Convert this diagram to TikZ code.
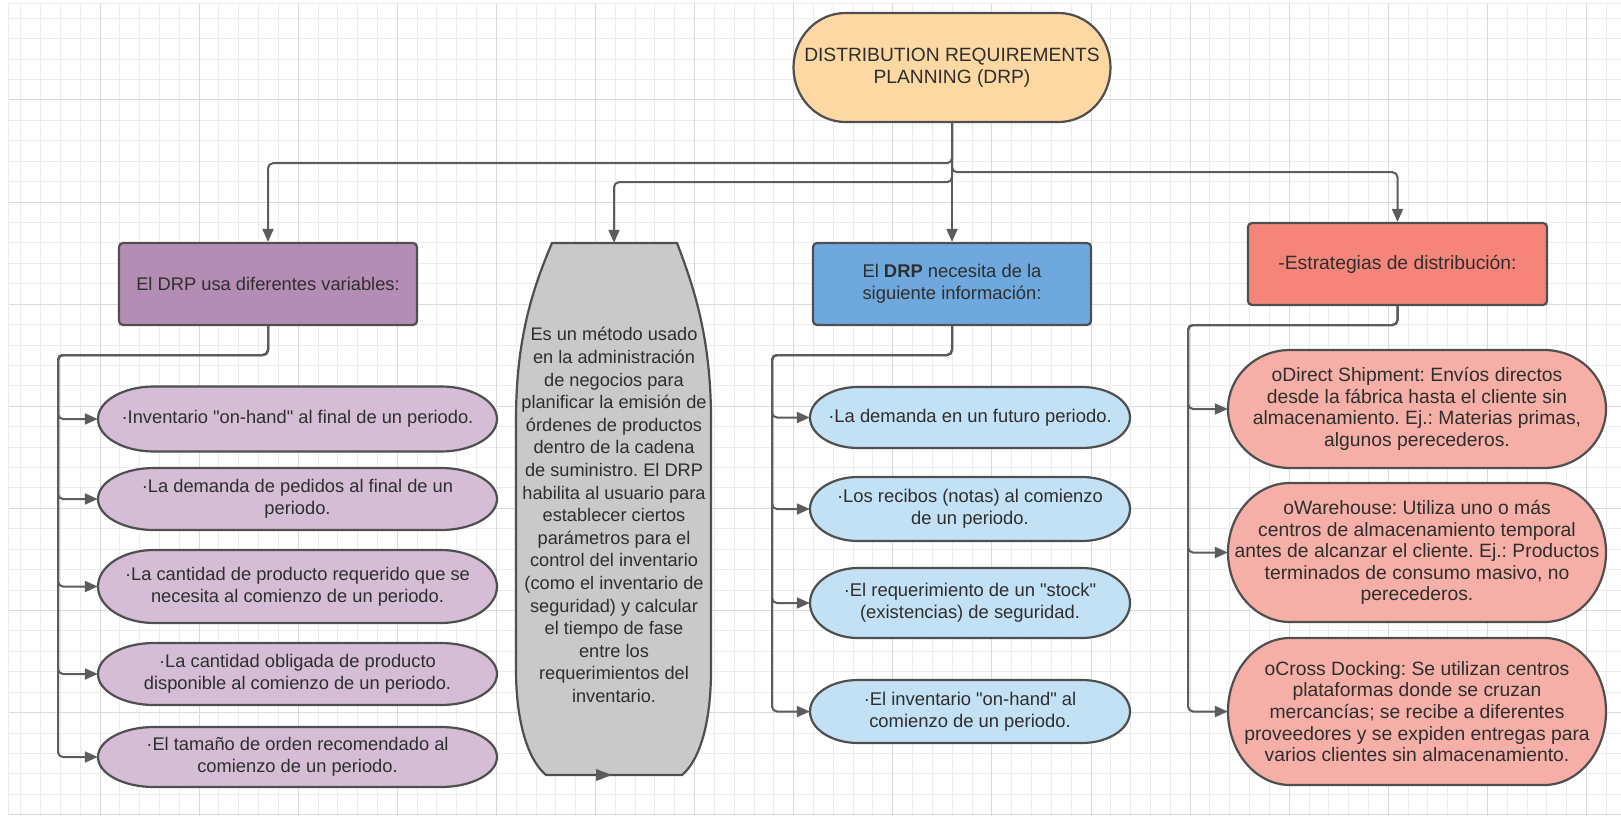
\documentclass[tikz,border=0pt]{standalone}
\usepackage{fontspec}
\setmainfont{Liberation Sans}[Ligatures=TeXOff]
\usetikzlibrary{arrows.meta}

\definecolor{gridminor}{HTML}{ECECEC}
\definecolor{gridmajor}{HTML}{DADADA}
\definecolor{linecol}{HTML}{5C5C5C}
\definecolor{bordercol}{HTML}{4F4F4F}
\definecolor{textcol}{HTML}{2E2E2E}
\definecolor{topfill}{HTML}{FDD8A3}
\definecolor{purplebox}{HTML}{B48DB4}
\definecolor{purplelight}{HTML}{D5BDD6}
\definecolor{graybody}{HTML}{C9C9C9}
\definecolor{bluebox}{HTML}{6FA8DC}
\definecolor{bluelight}{HTML}{C2E1F5}
\definecolor{redbox}{HTML}{F5857A}
\definecolor{redlight}{HTML}{F5AFA6}

% capsule outline with elliptical ends: name, cx, cy, w, h, end radius, fill, text, font size
\newcommand\capsule[9]{%
  \filldraw[shapeline, fill=#7]
    ({#2-#4/2+#6},{#3-#5/2}) -- ({#2+#4/2-#6},{#3-#5/2})
    .. controls ({#2+#4/2-#6+0.5523*#6},{#3-#5/2}) and ({#2+#4/2},{#3-0.5523*#5/2}) .. ({#2+#4/2},{#3})
    .. controls ({#2+#4/2},{#3+0.5523*#5/2}) and ({#2+#4/2-#6+0.5523*#6},{#3+#5/2}) .. ({#2+#4/2-#6},{#3+#5/2})
    -- ({#2-#4/2+#6},{#3+#5/2})
    .. controls ({#2-#4/2+#6-0.5523*#6},{#3+#5/2}) and ({#2-#4/2},{#3+0.5523*#5/2}) .. ({#2-#4/2},{#3})
    .. controls ({#2-#4/2},{#3-0.5523*#5/2}) and ({#2-#4/2+#6-0.5523*#6},{#3-#5/2}) .. cycle;
  \node[txt, font=\fontsize{#9}{21.6}\selectfont, minimum width=#4pt, minimum height=#5pt] (#1) at (#2,#3) {#8};
}

\begin{document}
\frenchspacing
\begin{tikzpicture}[x=1pt, y=-1pt,
  minorline/.style={draw=gridminor, line width=1pt},
  majorline/.style={draw=gridmajor, line width=1pt},
  shapeline/.style={draw=bordercol, line width=2.2pt},
  txt/.style={text=textcol, align=center, inner sep=0pt},
  boxnode/.style={txt, shapeline, rounded corners=4pt},
  conn/.style={draw=linecol, line width=2pt, rounded corners=5pt, -{Triangle[length=13pt, width=11pt]}},
]
\useasboundingbox (0,0) rectangle (1621,821);
\fill[white] (0,0) rectangle (1621,821);

% background grid
\begin{scope}
  \clip (8,4) rectangle (1621,815);
  \foreach \i in {0,...,82} { \draw[minorline] ({0.9+19.82*\i},0) -- ++(0,821); }
  \foreach \i in {0,...,41} { \draw[minorline] (0,{-2.1+20.42*\i}) -- ++(1621,0); }
  \foreach \i in {0,...,16} { \draw[majorline] ({0.9+99.1*\i},0) -- ++(0,821); }
  \foreach \i in {0,...,8} { \draw[majorline] (0,{-2.1+102.1*\i}) -- ++(1621,0); }
\end{scope}
\draw[minorline] (8,4) -- (1621,4);
\draw[minorline] (8,4) -- (8,815);

% root
\capsule{root}{952}{67.5}{317}{109}{52}{topfill}{DISTRIBUTION REQUIREMENTS\\PLANNING (DRP)}{19.2}

% second level
\node[boxnode, fill=purplebox, font=\fontsize{18.3}{21.6}\selectfont, minimum width=298pt, minimum height=82pt] (vars) at (268,284) {El DRP usa diferentes variables:};
\node[boxnode, fill=bluebox, font=\fontsize{18.4}{21.6}\selectfont, minimum width=278pt, minimum height=82pt] (info) at (952,284) {El \textbf{DRP} necesita de la\\siguiente información:};
\node[boxnode, fill=redbox, font=\fontsize{19.3}{21.6}\selectfont, minimum width=299pt, minimum height=82pt] (strat) at (1397.5,264) {-Estrategias de distribución:};

% definition body
\filldraw[shapeline, fill=graybody]
  (552,243) -- (677,243) .. controls (695,290) and (711,340) .. (711,420) -- (711,670)
  .. controls (711,722) and (700,760) .. (682,775) -- (546,775)
  .. controls (528,760) and (516,722) .. (516,670) -- (516,420)
  .. controls (516,340) and (532,290) .. (552,243) -- cycle;
\node[minimum width=196pt, minimum height=532pt, inner sep=0pt] (gray) at (614,509) {};
\node[txt, font=\fontsize{18.2}{22.6}\selectfont] (grayText) at (614,515)
  {Es un método usado\\en la administración\\de negocios para\\planificar la emisión de\\órdenes de productos\\dentro de la cadena\\de suministro. El DRP\\habilita al usuario para\\establecer ciertos\\parámetros para el\\control del inventario\\(como el inventario de\\seguridad) y calcular\\el tiempo de fase\\entre los\\requerimientos del\\inventario.};
\fill[linecol] (596,769) -- (612,775) -- (596,781) -- cycle;

% variables
\capsule{pv1}{297.5}{419}{399}{65}{56}{purplelight}{·Inventario "on-hand" al final de un periodo.}{18.3}
\capsule{pv2}{297.5}{499}{399}{62}{56}{purplelight}{·La demanda de pedidos al final de un\\periodo.}{18.3}
\capsule{pv3}{297.5}{586.5}{399}{73}{56}{purplelight}{·La cantidad de producto requerido que se\\necesita al comienzo de un periodo.}{18.3}
\capsule{pv4}{297.5}{674}{399}{62}{56}{purplelight}{·La cantidad obligada de producto\\disponible al comienzo de un periodo.}{18.3}
\capsule{pv5}{297.5}{757}{399}{60}{56}{purplelight}{·El tamaño de orden recomendado al\\comienzo de un periodo.}{18.3}

% information
\capsule{bi1}{970}{417.5}{320}{61}{48}{bluelight}{·La demanda en un futuro periodo.}{18.4}
\capsule{bi2}{970}{509}{320}{64}{48}{bluelight}{·Los recibos (notas) al comienzo\\de un periodo.}{18.4}
\capsule{bi3}{970}{603}{320}{70}{48}{bluelight}{·El requerimiento de un "stock"\\(existencias) de seguridad.}{18.4}
\capsule{bi4}{970}{711.5}{320}{63}{48}{bluelight}{·El inventario "on-hand" al\\comienzo de un periodo.}{18.4}

% strategies
\capsule{rs1}{1417}{409}{378}{118}{62}{redlight}{oDirect Shipment: Envíos directos\\desde la fábrica hasta el cliente sin\\almacenamiento. Ej.: Materias primas,\\algunos perecederos.}{19.3}
\capsule{rs2}{1417}{552.5}{378}{139}{62}{redlight}{oWarehouse: Utiliza uno o más\\centros de almacenamiento temporal\\antes de alcanzar el cliente. Ej.: Productos\\terminados de consumo masivo, no\\perecederos.}{19.3}
\capsule{rs3}{1417}{711.5}{378}{147}{62}{redlight}{oCross Docking: Se utilizan centros\\plataformas donde se cruzan\\mercancías; se recibe a diferentes\\proveedores y se expiden entregas para\\varios clientes sin almacenamiento.}{19.3}

% connectors from the root
\draw[conn] (root.south) -- ++(0,41) -| (vars.north);
\draw[conn] (root.south) -- ++(0,60) -| (gray.north);
\draw[conn] (root.south) -- ++(0,50) -| (strat.north);
\draw[conn] (root.south) -- (info.north);

% branch junctions
\coordinate (pj) at (58,355);
\coordinate (bj) at (772,355);
\coordinate (rj) at (1188,325);

\foreach \n in {pv1,pv2,pv3,pv4,pv5} { \draw[conn] (vars.south) |- (pj) |- (\n.west); }
\foreach \n in {bi1,bi2,bi3,bi4} { \draw[conn] (info.south) |- (bj) |- (\n.west); }
\foreach \n in {rs1,rs2,rs3} { \draw[conn] (strat.south) |- (rj) |- (\n.west); }
\end{tikzpicture}
\end{document}
